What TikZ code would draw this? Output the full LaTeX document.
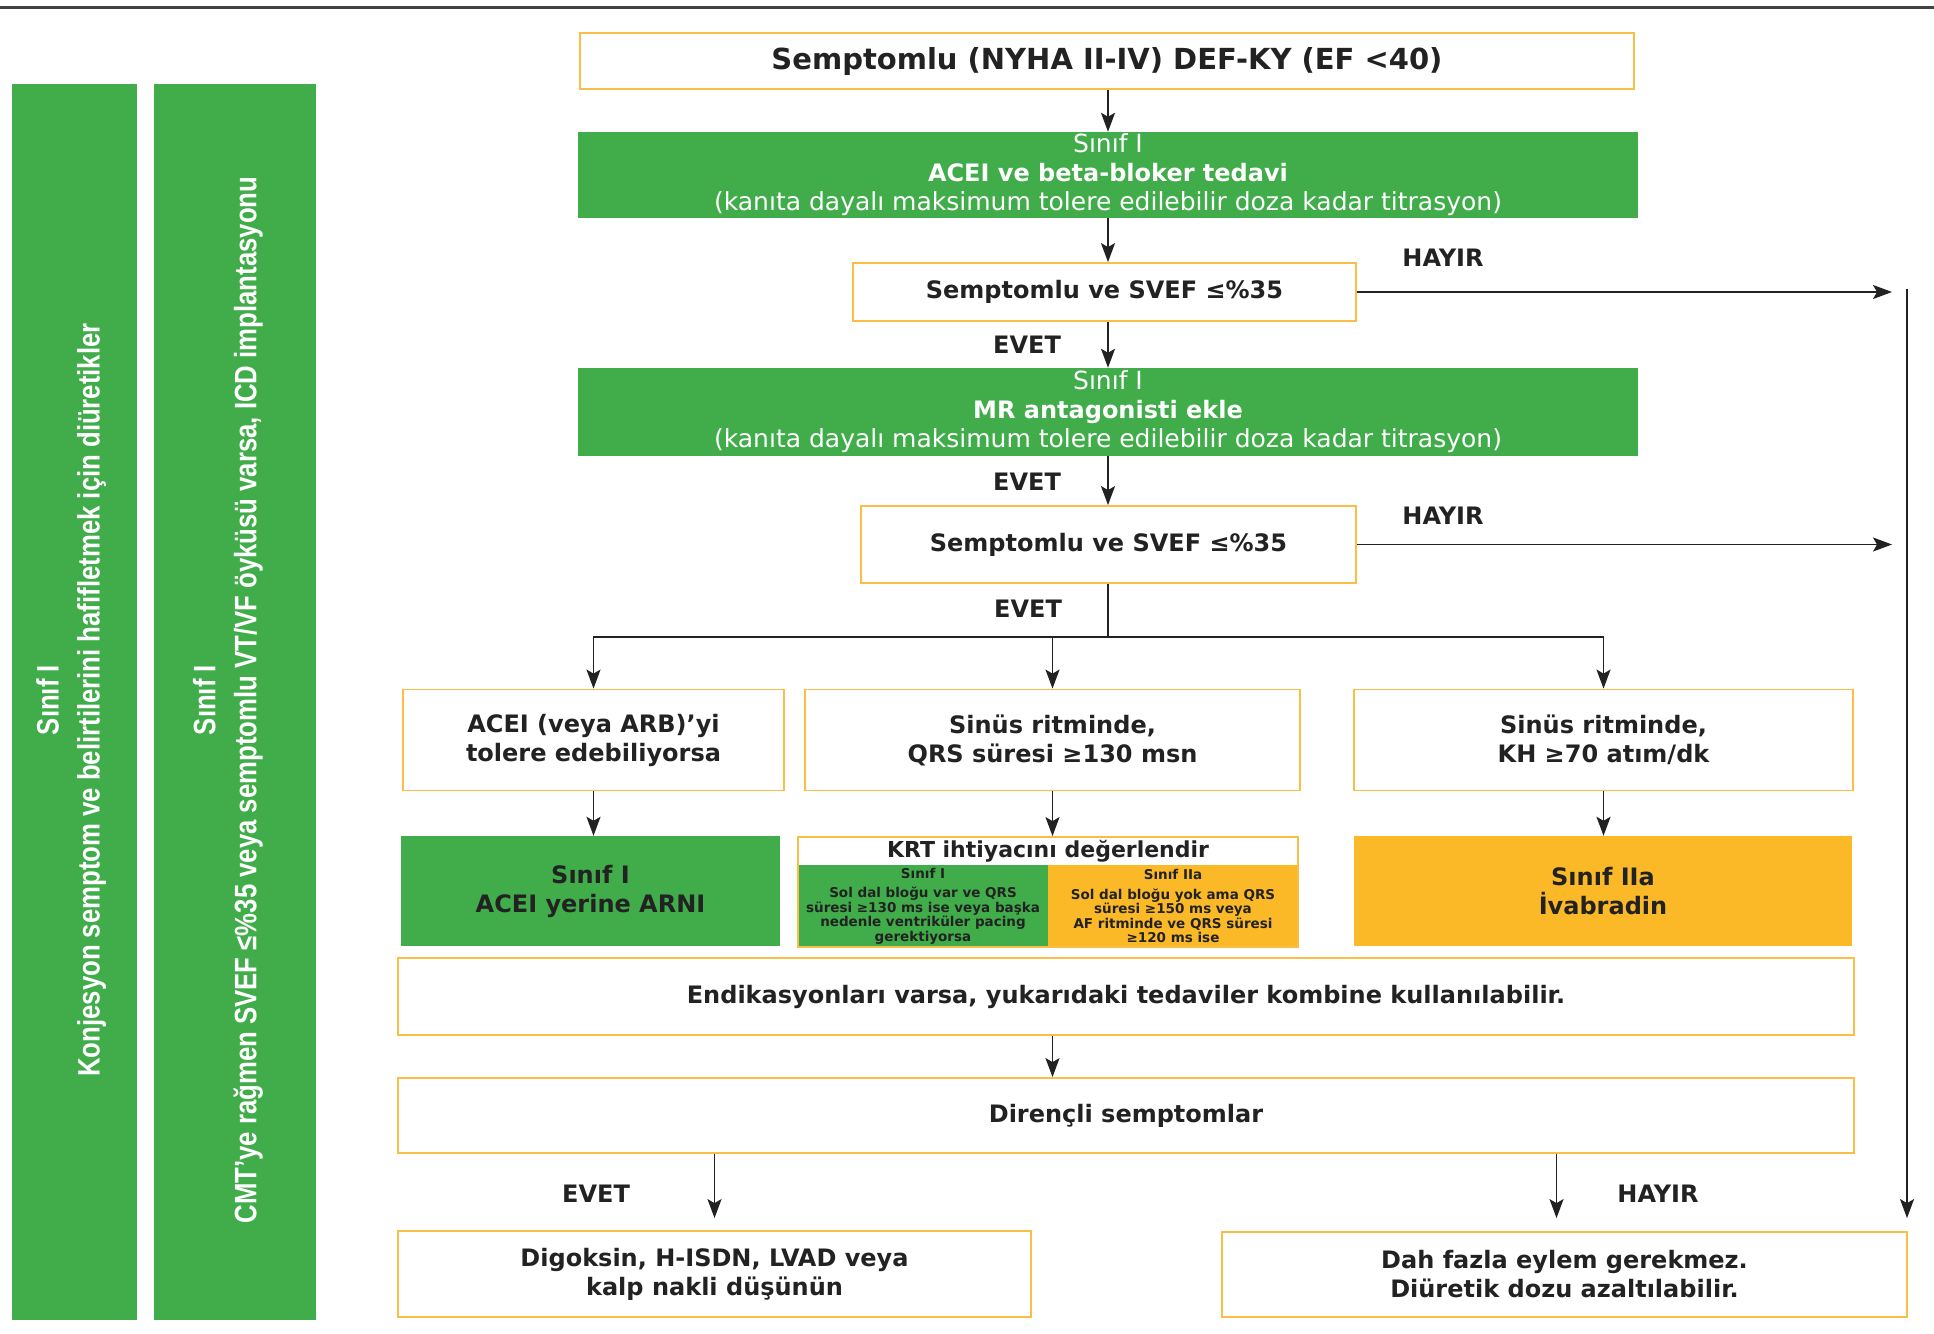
\documentclass[tikz,border=0pt]{standalone}
\usepackage{fontspec}
\setmainfont{DejaVu Sans}
\newfontfamily\sidefont[FakeStretch=0.83]{Liberation Sans}
\usetikzlibrary{arrows.meta,calc}
\definecolor{escgreen}{RGB}{64,173,74}
\definecolor{escorange}{RGB}{251,185,40}
\definecolor{boxline}{RGB}{250,190,70}
\definecolor{ink}{RGB}{34,34,34}

\begin{document}
\begin{tikzpicture}[x=1pt,y=-1pt,
  every node/.style={inner sep=0pt, align=center, text=ink},
  wh/.style 2 args={minimum width=#1pt, minimum height=#2pt},
  fs/.style={font=\fontsize{24}{29}\selectfont\bfseries},
  qbox/.style={draw=boxline, line width=1.8pt, fill=white, fs},
  gbox/.style={fill=escgreen, text=white, font=\fontsize{25}{29}\selectfont},
  obox/.style={fill=escorange, fs},
  lab/.style={fs},
  arr/.style={draw=ink, line width=1.8pt, -{Stealth[length=19pt,width=14pt,inset=4pt]}},
  ln/.style={draw=ink, line width=1.8pt},
  bar/.style={fill=escgreen},
  sidetxt/.style={rotate=90, text=white, font=\fontsize{31}{41}\selectfont\sidefont\bfseries},
  small/.style={font=\fontsize{13.5}{14.5}\selectfont\bfseries},
]
\useasboundingbox (0,0) rectangle (1934,1333);

% top rule
\draw[line width=3pt, draw=ink!85] (0,7) -- (1934,7);

% side bars
\node[bar, wh={125}{1236}] (bar1) at (74.5,702) {};
\node[bar, wh={162}{1236}] (bar2) at (235,702) {};
\node[sidetxt] (bar1txt) at (71,700) {Sınıf I\\Konjesyon semptom ve belirtilerini hafifletmek için diüretikler};
\node[sidetxt] (bar2txt) at (228,700) {Sınıf I\\CMT’ye rağmen SVEF ≤\%35 veya semptomlu VT/VF öyküsü varsa, ICD implantasyonu};

% main column
\node[qbox, wh={1054}{56}, font=\fontsize{29}{34}\selectfont\bfseries] (title) at (1107,61) {Semptomlu (NYHA II-IV) DEF-KY (EF <40)};
\node[gbox, wh={1060}{86}] (g1) at (1108,175) {Sınıf I\\{\fontsize{24}{29}\selectfont\bfseries ACEI ve beta-bloker tedavi}\\(kanıta dayalı maksimum tolere edilebilir doza kadar titrasyon)};
\node[qbox, wh={503}{58}] (q1) at (1104.5,292) {Semptomlu ve SVEF ≤\%35};
\node[gbox, wh={1060}{88}] (g2) at (1108,412) {Sınıf I\\{\fontsize{24}{29}\selectfont\bfseries MR antagonisti ekle}\\(kanıta dayalı maksimum tolere edilebilir doza kadar titrasyon)};
\node[qbox, wh={495}{77}] (q2) at (1108.5,544.5) {Semptomlu ve SVEF ≤\%35};

% three branches
\node[qbox, wh={381}{101}] (b6a) at (593.5,740) {ACEI (veya ARB)’yi\\tolere edebiliyorsa};
\node[qbox, wh={495}{101}] (b6b) at (1052.5,740) {Sinüs ritminde,\\QRS süresi ≥130 msn};
\node[qbox, wh={499}{101}] (b6c) at (1603.5,740) {Sinüs ritminde,\\KH ≥70 atım/dk};

\node[fill=escgreen, fs, wh={379}{110}] (b7a) at (590.5,891) {Sınıf I\\ACEI yerine ARNI};
\node[obox, wh={498}{110}] (b7c) at (1603,891) {Sınıf IIa\\İvabradin};

% KRT box: header with two coloured halves
\node[fill=escgreen, small, wh={250}{82}] (krtg) at (923,906) {Sınıf I\\[5pt]Sol dal bloğu var ve QRS\\süresi ≥130 ms ise veya başka\\nedenle ventriküler pacing\\gerektiyorsa};
\node[fill=escorange, small, wh={250}{82}] (krto) at (1173,906) {Sınıf IIa\\[5pt]Sol dal bloğu yok ama QRS\\süresi ≥150 ms veya\\AF ritminde ve QRS süresi\\≥120 ms ise};
\node[font=\fontsize{22}{26}\selectfont\bfseries, wh={500}{28}] (krth) at (1048,851) {KRT ihtiyacını değerlendir};
\node[draw=boxline, line width=1.8pt, wh={500}{110}] (b7b) at (1048,892) {};

\node[qbox, wh={1456}{77}] (b8) at (1126,996.5) {Endikasyonları varsa, yukarıdaki tedaviler kombine kullanılabilir.};
\node[qbox, wh={1456}{75}] (b9) at (1126,1115.5) {Dirençli semptomlar};
\node[qbox, wh={633}{86}] (b10a) at (714.5,1274) {Digoksin, H-ISDN, LVAD veya\\kalp nakli düşünün};
\node[qbox, wh={685}{85}] (b10b) at (1564.5,1274.5) {Dah fazla eylem gerekmez.\\Diüretik dozu azaltılabilir.};

% labels
\node[lab] (e1) at (1027,345) {EVET};
\node[lab] (e2) at (1027,482) {EVET};
\node[lab] (e3) at (1028,609) {EVET};
\node[lab] (e4) at (596,1194) {EVET};
\node[lab] (h1) at (1443,258) {HAYIR};
\node[lab] (h2) at (1443,516) {HAYIR};
\node[lab] (h3) at (1658,1194) {HAYIR};

% connectors
\coordinate (trunk) at (1108,0);
\coordinate (split) at (1108,637);
\coordinate (rin) at (1892,0);
\coordinate (rtop) at (1907,289);
\coordinate (noarr) at ($(b10b.north)+(-8,0)$);

\draw[arr] (title.south -| trunk) -- (g1.north -| trunk);
\draw[arr] (g1.south -| trunk) -- (q1.north -| trunk);
\draw[arr] (q1.south -| trunk) -- (g2.north -| trunk);
\draw[arr] (g2.south -| trunk) -- (q2.north -| trunk);
\draw[ln] (q2.south -| trunk) -- (split);
\draw[arr] (split) -| (b6a.north);
\draw[arr] (split) -| (b6c.north);
\draw[arr] (b6b.north |- split) -- (b6b.north);

\draw[arr] (b6a.south) -- (b6a.south |- b7a.north);
\draw[arr] (b6b.south) -- (b6b.south |- b7b.north);
\draw[arr] (b6c.south) -- (b6c.south |- b7c.north);

\draw[arr] (b8.south -| b6b) -- (b9.north -| b6b);
\draw[arr, shorten >=12pt] (b10a.north |- b9.south) -- (b10a.north);
\draw[arr, shorten >=13pt] (noarr |- b9.south) -- (noarr);

\draw[arr] (q1.east) -- (q1.east -| rin);
\draw[arr] (q2.east) -- (q2.east -| rin);
\draw[arr, shorten >=13pt] (rtop) -- (rtop |- b10b.north);
\end{tikzpicture}
\end{document}
